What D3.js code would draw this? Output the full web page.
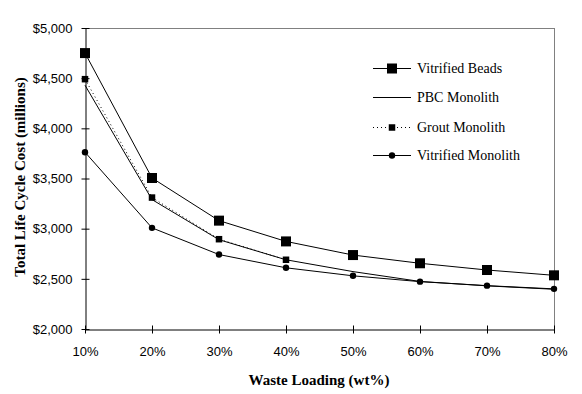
<!DOCTYPE html>
<html><head><meta charset="utf-8">
<script src="https://cdn.jsdelivr.net/npm/d3@7"></script>
<style>body{margin:0;background:#fff}svg{display:block}</style>
</head><body>
<script>
const categories = ["10%","20%","30%","40%","50%","60%","70%","80%"];
const loadings = [10,20,30,40,50,60,70,80];
const vitrifiedBeads = [4750,3505,3080,2873,2737,2655,2588,2535];
const pbcMonolith = [4430,3290,2890,2690,2572,2474,2430,2396];
const groutMonolith = [4490,3310,2895,2690];
const vitrifiedMonolith = [3762,3008,2742,2610,2530,2472,2432,2400];
const yTicks = [2000,2500,3000,3500,4000,4500,5000];

const W=582,H=394;
const svg=d3.select("body").append("svg").attr("width",W).attr("height",H);
const x=d3.scaleLinear().domain([10,80]).range([85,554]);
const y=d3.scaleLinear().domain([2000,5000]).range([329,28]);

svg.append("line").attr("x1",85).attr("x2",554).attr("y1",28.5).attr("y2",28.5).attr("stroke","#808080");
svg.append("line").attr("x1",554.5).attr("x2",554.5).attr("y1",28).attr("y2",329).attr("stroke","#808080");

const yAxis=d3.axisLeft(y).tickValues(yTicks).tickFormat(d=>"$"+d3.format(",")(d)).tickSize(0).tickPadding(13);
const gy=svg.append("g").attr("transform","translate(85.5,0)").call(yAxis);
gy.select(".domain").attr("stroke","#000");
gy.selectAll(".tick line").attr("x1",-4).attr("x2",4).attr("stroke","#000");
gy.selectAll("text").attr("font-family","Liberation Sans, Arial, sans-serif").attr("font-size",13).attr("fill","#000");

const xAxis=d3.axisBottom(x).tickValues(loadings).tickFormat((d,i)=>categories[i]).tickSize(0).tickPadding(17);
const gx=svg.append("g").attr("transform","translate(0,329.5)").call(xAxis);
gx.select(".domain").attr("stroke","#000");
gx.selectAll(".tick line").attr("y1",-4).attr("y2",4).attr("stroke","#000");
gx.selectAll("text").attr("font-family","Liberation Sans, Arial, sans-serif").attr("font-size",13).attr("fill","#000");

svg.append("text").attr("x",319).attr("y",385).attr("text-anchor","middle")
  .attr("font-family","Liberation Serif, Times New Roman, serif").attr("font-weight","bold").attr("font-size",15)
  .text("Waste Loading (wt%)");
svg.append("text").attr("transform","translate(25,177) rotate(-90)").attr("text-anchor","middle")
  .attr("font-family","Liberation Serif, Times New Roman, serif").attr("font-weight","bold").attr("font-size",15)
  .text("Total Life Cycle Cost (millions)");

const line=d3.line().x((d,i)=>x(loadings[i])).y(d=>y(d));
const series=[
 {name:"Vitrified Beads",vals:vitrifiedBeads,dash:null,marker:"bigsq"},
 {name:"PBC Monolith",vals:pbcMonolith,dash:null,marker:null},
 {name:"Grout Monolith",vals:groutMonolith,dash:"1,3",marker:"sq"},
 {name:"Vitrified Monolith",vals:vitrifiedMonolith,dash:null,marker:"circ"}
];
function marker(g,type,cx,cy){
  if(type==="bigsq") g.append("rect").attr("x",cx-5).attr("y",cy-5).attr("width",10).attr("height",10).attr("fill","#000");
  else if(type==="sq") g.append("rect").attr("x",cx-3.25).attr("y",cy-3.25).attr("width",6.5).attr("height",6.5).attr("fill","#000");
  else if(type==="circ") g.append("circle").attr("cx",cx).attr("cy",cy).attr("r",3.2).attr("fill","#000");
}
series.forEach(s=>{
  svg.append("path").attr("d",line(s.vals)).attr("fill","none").attr("stroke","#000").attr("stroke-width",1)
    .attr("stroke-dasharray",s.dash);
});
series.forEach(s=>{
  if(!s.marker) return;
  const g=svg.append("g");
  s.vals.forEach((v,i)=>marker(g,s.marker,x(loadings[i]),y(v)));
});

const legY=[68,97,127,155];
series.forEach((s,i)=>{
  const ly=legY[i]+0.5;
  svg.append("line").attr("x1",373).attr("x2",411).attr("y1",ly).attr("y2",ly).attr("stroke","#000")
    .attr("stroke-dasharray",s.dash);
  if(s.marker){const g=svg.append("g");marker(g,s.marker,392,ly);}
  svg.append("text").attr("x",417).attr("y",legY[i]+5).attr("font-family","Liberation Serif, Times New Roman, serif")
    .attr("font-size",14).text(s.name);
});
</script>
</body></html>
